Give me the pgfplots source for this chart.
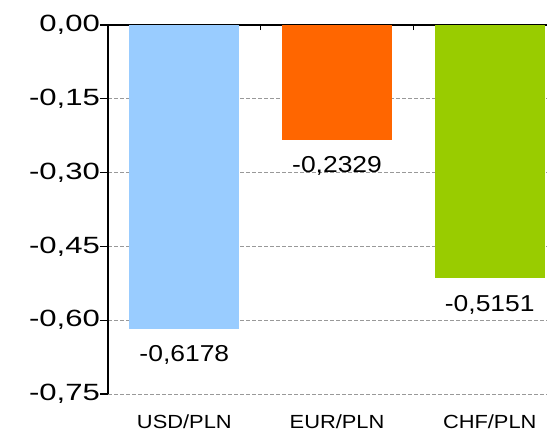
\documentclass[border=0pt]{standalone}
\usepackage{fontspec}
\setmainfont{Liberation Sans}[FakeStretch=1.15]
\usepackage{pgfplots}
\pgfplotsset{compat=1.18}
\definecolor{cusd}{HTML}{99CCFF}
\definecolor{ceur}{HTML}{FF6600}
\definecolor{cchf}{HTML}{99CC00}
\newcommand\ylab{\fontsize{23.5}{25}\selectfont}
\pgfplotsset{layers/mylayers/.define layer set={axis background,axis grid,pre main,main,axis ticks,axis lines,axis tick labels,axis descriptions,axis foreground}{}}
\begin{document}
\begin{tikzpicture}
\begin{axis}[
  set layers=mylayers,
  at={(108pt,-25pt)}, anchor=north west,
  scale only axis, width=439pt, height=369pt,
  xmin=-0.5, xmax=2.375, ymin=-0.75, ymax=0,
  axis y line*=left, axis x line*=top,
  axis line style={-, black, line width=1.2pt},
  ytick={-0.75,-0.6,-0.45,-0.3,-0.15,0},
  yticklabels={{-0,75},{-0,60},{-0,45},{-0,30},{-0,15},{0,00}},
  ytick pos=left,
  ytick style={black, line width=1.2pt},
  yticklabel style={font=\ylab, xshift=-4pt, xscale=1.15},
  tick align=inside, major tick length=-8pt, minor tick length=-5pt,
  xtick={0,1,2},
  xticklabels={USD/PLN,EUR/PLN,CHF/PLN},
  minor xtick={0.5,1.5},
  xtick pos=right,
  major x tick style={draw=none},
  minor x tick style={draw=black, line width=1.2pt},
  x tick label style={font=\fontsize{19}{21}\selectfont, yshift=-399pt},
  ymajorgrids,
  major grid style={gray!80, dashed, line width=0.9pt, dash pattern=on 4pt off 2pt},
  ybar, bar width=0.72,
  nodes near coords={\pgfmathprintnumber[fixed,fixed zerofill,precision=4,use comma,assume math mode=true]{\pgfplotspointmeta}},
  every node near coord/.append style={font=\fontsize{23}{25}\selectfont, anchor=north, yshift=-13pt, black},
  clip=false,
]
\addplot[fill=cusd, draw=none, bar shift=0pt] coordinates {(0,-0.6178)};
\addplot[fill=ceur, draw=none, bar shift=0pt] coordinates {(1,-0.2329)};
\addplot[fill=cchf, draw=none, bar shift=0pt] coordinates {(2,-0.5151)};
\end{axis}
\pgfresetboundingbox
\path[use as bounding box] (0pt,0pt) rectangle (547pt,-431pt);
\end{tikzpicture}
\end{document}
